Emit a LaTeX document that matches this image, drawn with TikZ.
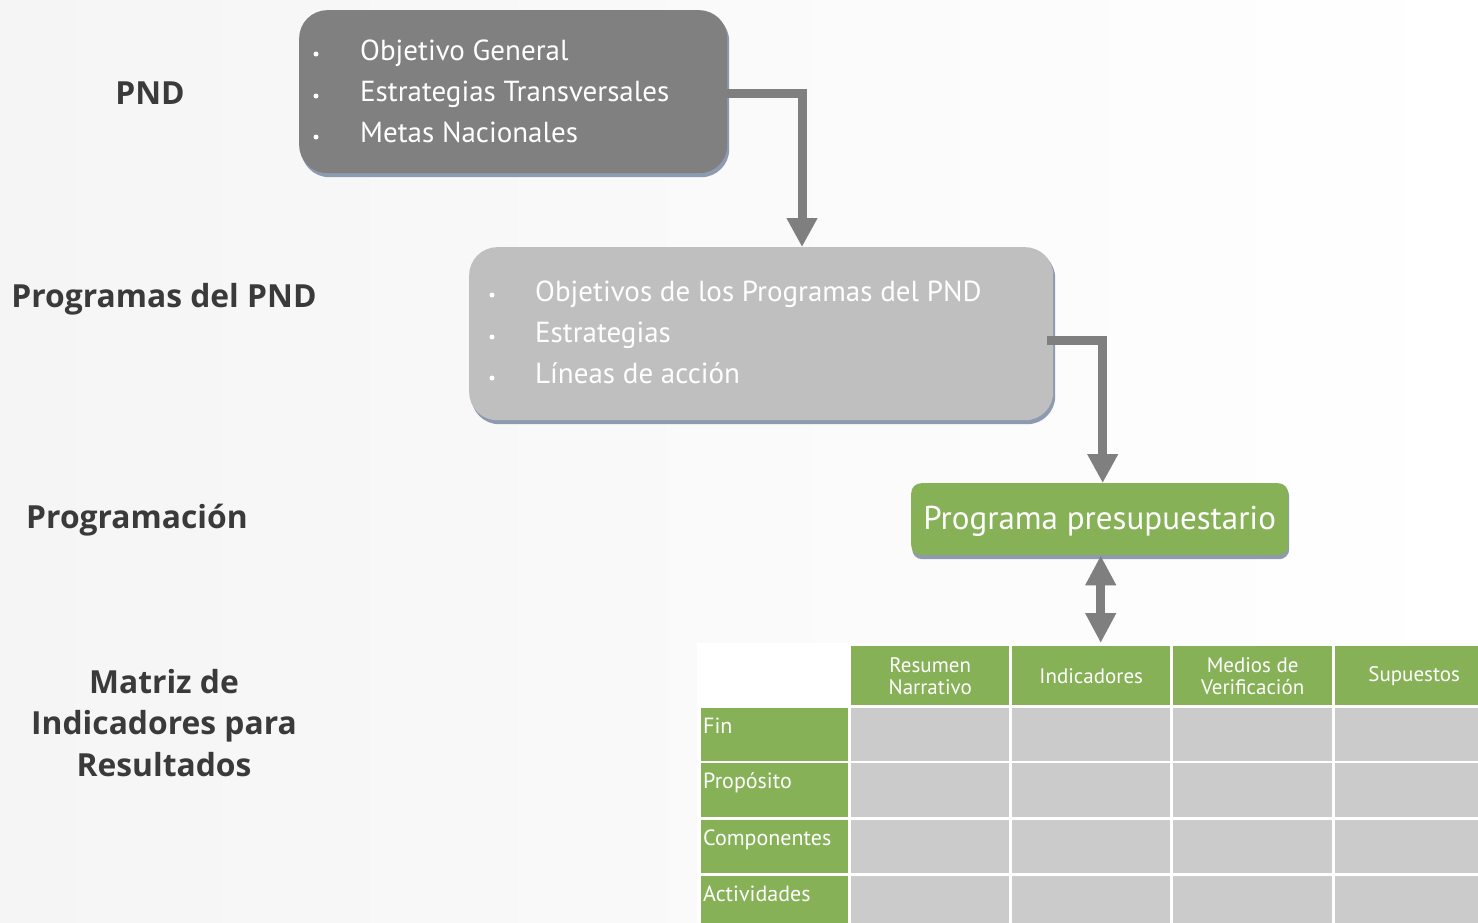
\documentclass[tikz,border=0pt]{standalone}
\usepackage{fontspec}
\setmainfont{PT Sans}
\newfontfamily\headfont{Open Sans}
\usetikzlibrary{arrows.meta,calc}
\definecolor{bgl}{HTML}{F5F5F5}
\definecolor{boxdark}{HTML}{808080}
\definecolor{boxlight}{HTML}{BFBFBF}
\definecolor{grn}{HTML}{86B157}
\definecolor{cellgray}{HTML}{CBCBCB}
\definecolor{shadowc}{HTML}{8D9AB0}
\definecolor{headc}{HTML}{3A3A3A}
\definecolor{arrowc}{HTML}{7F7F7F}
\tikzset{
  heading/.style={font=\headfont\bfseries\fontsize{31.8}{41.5}\selectfont, text=headc, align=center, inner sep=0},
  listtxt/.style={font=\fontsize{29}{32}\selectfont, text=white, inner sep=0},
  bulletdot/.style={circle, fill=white, minimum size=5pt, inner sep=0},
  shadowbox/.style={fill=shadowc, rounded corners=28pt, inner sep=0, anchor=north west},
  flowarrow/.style={draw=arrowc, line width=9pt, -{Triangle[width=29pt,length=29pt]}},
  dblarrow/.style={draw=arrowc, line width=9pt, {Triangle[width=29pt,length=30pt]}-{Triangle[width=29pt,length=30pt]}},
  cell/.style={fill=cellgray, inner sep=0, anchor=north west},
  gcell/.style={fill=grn, inner sep=0, anchor=north west},
  hdrtxt/.style={font=\fontsize{21}{22}\selectfont, text=white, align=center},
  rowtxt/.style={font=\fontsize{22}{22}\selectfont, text=white, inner sep=0, anchor=base west},
}
\begin{document}
\begin{tikzpicture}[x=1pt,y=-1pt]
\useasboundingbox (0,0) rectangle (1478,922);
\shade[left color=bgl, right color=white] (0,0) rectangle (1478,922);

% left headings
\node[heading] (hpnd) at (150,93) {PND};
\node[heading] (hprog) at (164,299) {Programas del PND};
\node[heading] (hpp) at (137,520) {Programación};
\node[heading] (hmir) at (164,723) {Matriz de\\Indicadores para\\Resultados};

% top box
\node[shadowbox, minimum width=428pt, minimum height=164pt] (pndsh) at (301,13) {};
\node[fill=boxdark, rounded corners=28pt, inner sep=0, anchor=north west, minimum width=428pt, minimum height=163pt] (pnd) at (299,10) {};
\node[bulletdot] (pb1) at (316,54) {};
\node[bulletdot] (pb2) at (316,96) {};
\node[bulletdot] (pb3) at (316,137) {};
\node[listtxt, anchor=base west] (pt1) at (360,60) {Objetivo General};
\node[listtxt, anchor=base west] (pt2) at (360,101) {Estrategias Transversales};
\node[listtxt, anchor=base west] (pt3) at (360,142) {Metas Nacionales};

% middle box
\node[shadowbox, minimum width=584pt, minimum height=174pt] (progsh) at (471,250) {};
\node[fill=boxlight, rounded corners=28pt, inner sep=0, anchor=north west, minimum width=584pt, minimum height=173pt] (prog) at (469,247) {};
\node[bulletdot] (mb1) at (492,295) {};
\node[bulletdot] (mb2) at (492,337) {};
\node[bulletdot] (mb3) at (492,378) {};
\node[listtxt, anchor=base west] (mt1) at (535,301) {Objetivos de los Programas del PND};
\node[listtxt, anchor=base west] (mt2) at (535,342) {Estrategias};
\node[listtxt, anchor=base west] (mt3) at (535,383) {Líneas de acción};

% green box
\node[fill=shadowc, rounded corners=10pt, inner sep=0, anchor=north west, minimum width=377pt, minimum height=73pt] (grnsh) at (912,486) {};
\node[fill=grn, rounded corners=10pt, inner sep=0, anchor=north west, minimum width=377pt, minimum height=72pt, font=\fontsize{33}{36}\selectfont, text=white, text depth=2pt] (green) at (911,483) {Programa presupuestario};

% table
\node[fill=white, inner sep=0, anchor=north west, minimum width=800pt, minimum height=279pt] (mtx) at (697,643) {};
\node[gcell, minimum width=158pt, minimum height=59pt, hdrtxt] (h1) at (851,646) {Resumen\\Narrativo};
\node[gcell, minimum width=158pt, minimum height=59pt, hdrtxt] (h2) at (1012,646) {Indicadores};
\node[gcell, minimum width=159pt, minimum height=59pt, hdrtxt] (h3) at (1173,646) {Medios de\\Verificación};
\node[gcell, minimum width=158pt, minimum height=59pt, hdrtxt] (h4) at (1335,646) {Supuestos};
\foreach \y/\h/\r/\lab in {708/53/1/Fin,763/54/2/Propósito,820/53/3/Componentes,876/50/4/Actividades}{
  \node[gcell, minimum width=147pt, minimum height=\h pt] (r\r) at (701,\y) {};
  \node[rowtxt] (rl\r) at ($(r\r.north west)+(2,25)$) {\lab};
  \foreach \x/\w/\c in {851/158/1,1012/158/2,1173/159/3,1335/158/4}{
    \node[cell, minimum width=\w pt, minimum height=\h pt] (c\r\c) at (\x,\y) {};
  }
}

% connectors
\coordinate (a1x) at (802,0);
\draw[flowarrow] ([yshift=-2pt]pnd.east) -| (a1x |- prog.north);
\draw[flowarrow] ([xshift=-6pt,yshift=-7pt]prog.east) -| ([xshift=3pt]green.north);
\draw[dblarrow] ([xshift=1pt]green.south) -- ([xshift=1pt]green.south |- mtx.north);
\end{tikzpicture}
\end{document}
